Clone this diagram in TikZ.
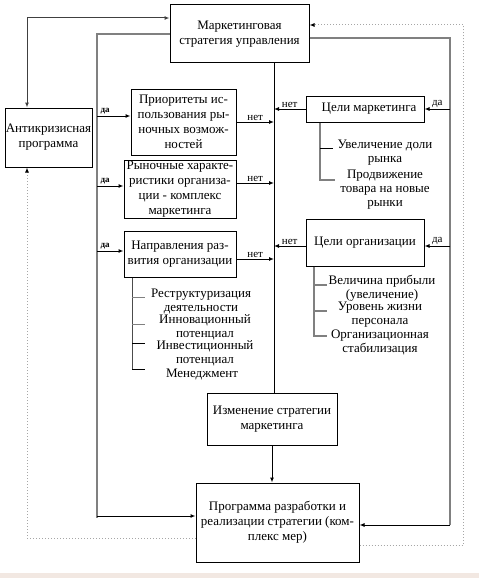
\documentclass[tikz,border=0pt]{standalone}
\usepackage{fontspec}
\setmainfont{Liberation Serif}
\usetikzlibrary{arrows.meta}

\definecolor{polosa}{RGB}{242,232,226}

\tikzset{
  blok/.style={draw, line width=1pt, inner sep=0pt, align=center, font=\fontsize{13}{15}\selectfont},
  punkt/.style={inner sep=0pt, align=center, font=\fontsize{13}{14}\selectfont},
  pil/.style={-{Latex[length=5pt,width=4pt,color=black]}},
  seraya/.style={draw=gray, line width=2pt},
  tochki/.style={draw=gray!70, line width=1pt, dotted},
  metka/.style={inner sep=1pt, font=\fontsize{11}{12}\selectfont},
  da/.style={inner sep=1pt, font=\bfseries\fontsize{9}{10}\selectfont},
}

\begin{document}
\begin{tikzpicture}[x=1pt,y=-1pt]
        \useasboundingbox (0,0) rectangle (479,578);

        % блоки
        \node[blok, minimum width=139pt, minimum height=58pt] (mstrat) at (239.5,34) {Маркетинговая\\стратегия управления};
        \node[blok, minimum width=87pt, minimum height=59pt] (anti) at (48.5,137.5) {Антикризисная\\программа};
        \node[blok, minimum width=105pt, minimum height=66pt] (prior) at (183.5,122) {Приоритеты ис-\\пользования ры-\\ночных возмож-\\ностей};
        \node[blok, minimum width=112pt, minimum height=58pt] (rynok) at (180,189) {Рыночные характе-\\ристики организа-\\ции - комплекс\\маркетинга};
        \node[blok, minimum width=112pt, minimum height=46pt] (napr) at (180,254) {Направления раз-\\вития организации};
        \node[blok, minimum width=118pt, minimum height=26pt] (celim) at (365,109) {\hspace{8pt}Цели маркетинга};
        \node[blok, minimum width=118pt, minimum height=47pt] (celio) at (365,242.5) {Цели организации};
        \node[blok, minimum width=130pt, minimum height=52pt] (izm) at (272,419) {Изменение стратегии\\маркетинга};
        \node[blok, minimum width=163pt, minimum height=79pt] (prog) at (277.5,522.5) {Программа разработки и\\реализации стратегии (ком-\\плекс мер)};

        % главная линия
        \coordinate (spine) at (274,0);
        \draw[line width=1pt] (mstrat.south -| spine) -- (izm.north -| spine);
        \draw[pil, line width=1pt] (izm.south) -- (izm.south |- prog.north);

        % левая шина и "да"
        \coordinate (lrail) at (97,0);
        \coordinate (lbot) at (97,516);
        \draw[seraya] (mstrat.west) -| ([yshift=-2pt]lbot);
        \draw[pil, line width=1pt] (lbot) -- (lbot -| prog.west);
        \coordinate (d1) at ([yshift=6pt]prior.west);
        \coordinate (d2) at ([yshift=3pt]rynok.west);
        \coordinate (d3) at ([yshift=3pt]napr.west);
        \draw[pil, line width=1pt] (d1 -| lrail) -- (d1) node[da, pos=0, anchor=south west, xshift=2pt] (da1) {да};
        \draw[pil, line width=1pt] (d2 -| lrail) -- (d2) node[da, pos=0, anchor=south west, xshift=2pt] (da2) {да};
        \draw[pil, line width=1pt] (d3 -| lrail) -- (d3) node[da, pos=0, anchor=south west, xshift=2pt] (da3) {да};

        % "нет" к главной линии
        \coordinate (n2) at ([yshift=6pt]rynok.east);
        \coordinate (n3) at ([yshift=-5pt]napr.east);
        \coordinate (n5) at ([yshift=-3.5pt]celio.west);
        \draw[pil, line width=1pt] (prior.east) -- (prior.east -| spine) node[metka, midway, above] (net1) {нет};
        \draw[pil, line width=1pt] (n2) -- (n2 -| spine) node[metka, midway, above] (net2) {нет};
        \draw[pil, line width=1pt] (n3) -- (n3 -| spine) node[metka, midway, above] (net3) {нет};
        \draw[pil, line width=1pt] (celim.west) -- (celim.west -| spine) node[metka, midway, above] (net4) {нет};
        \draw[pil, line width=1pt] (n5) -- (n5 -| spine) node[metka, midway, above] (net5) {нет};

        % правая шина и "да"
        \coordinate (rrail) at (450,0);
        \coordinate (rbot) at (450,525);
        \coordinate (d5) at ([yshift=-3.5pt]celio.east);
        \draw[seraya] ([yshift=-4pt]mstrat.east) -| (rbot);
        \draw[pil, line width=1pt] (rbot) -- (rbot -| prog.east);
        \draw[pil, line width=1pt] (celim.east -| rrail) -- (celim.east) node[metka, midway, above] (da4) {да};
        \draw[pil, line width=1pt] (d5 -| rrail) -- (d5) node[metka, midway, above] (da5) {да};

        % обратные связи (пунктир)
        \coordinate (rtop) at (463,25);
        \coordinate (ldot) at (27,0);
        \draw[tochki, pil] ([yshift=-22.5pt]prog.east) -| (rtop) -- (rtop -| mstrat.east);
        \draw[tochki, pil] ([yshift=-15.5pt]prog.west) -| (ldot |- anti.south);
        \draw[{Latex[length=5pt,width=4pt]}-{Latex[length=5pt,width=4pt]}, draw=black!75, line width=1pt]
            (ldot |- anti.north) |- ([yshift=16pt]mstrat.west);

        % цели маркетинга
        \draw[seraya] (celim.south -| 320,0) -- (320,181);
        \draw[line width=1pt] (320,148) -- (333,148);
        \draw[seraya] (320,180) -- (335,180);
        \node[punkt] (cm1) at (385,152.5) {Увеличение доли\\рынка};
        \node[punkt] (cm2) at (385,190) {Продвижение\\товара на новые\\рынки};

        % цели организации
        \draw[seraya] (celio.south -| 314,0) -- (314,337);
        \foreach \y in {285,311,336}
            \draw[seraya] (314,\y) -- (327,\y);
        \node[punkt] (co1) at (382,288) {Величина прибыли\\(увеличение)};
        \node[punkt] (co2) at (380,315) {Уровень жизни\\персонала};
        \node[punkt] (co3) at (380,342.5) {Организационная\\стабилизация};

        % направления развития
        \draw[line width=1pt, draw=black!70] (napr.south -| 132,0) -- (132,369);
        \foreach \y/\c in {297/gray,324/gray,343/black,369/black}
            \draw[line width=1pt, draw=\c] (132,\y) -- (145,\y);
        \node[punkt] (nr1) at (201,301) {Реструктуризация\\деятельности};
        \node[punkt] (nr2) at (205,327) {Инновационный\\потенциал};
        \node[punkt] (nr3) at (205,353.5) {Инвестиционный\\потенциал};
        \node[punkt] (nr4) at (202,374.5) {Менеджмент};

        % нижняя полоса
        \fill[polosa] (0,573) rectangle (479,578);
    \end{tikzpicture}
\end{document}
